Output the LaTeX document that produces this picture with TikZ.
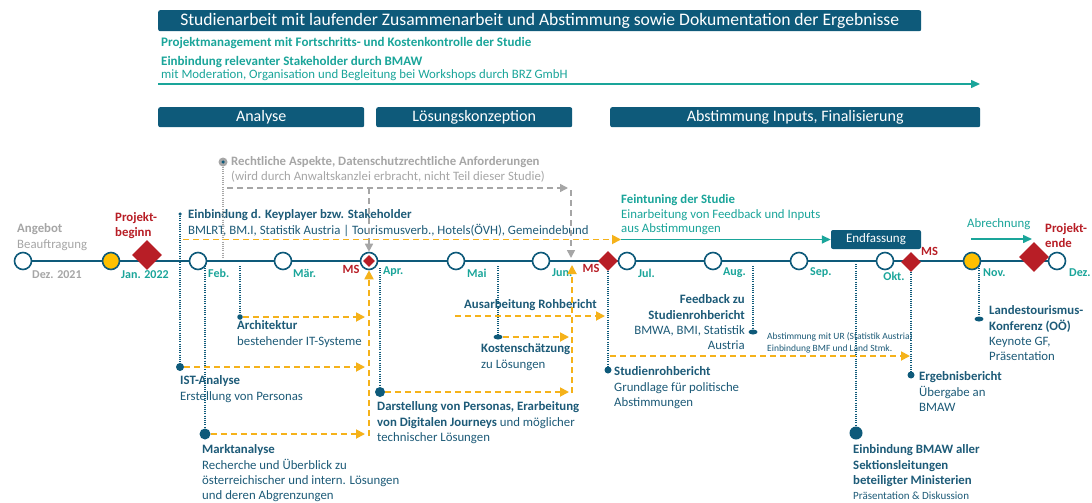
\documentclass[tikz,border=0pt]{standalone}
\usepackage{fontspec}
\setmainfont{Carlito}
\usetikzlibrary{shapes.geometric,arrows.meta}
\definecolor{dblue}{HTML}{0E5A7A}
\definecolor{tblue}{HTML}{1D5B78}
\definecolor{tealc}{HTML}{1AA59A}
\definecolor{goldc}{HTML}{F5B21A}
\definecolor{ylwc}{HTML}{FFC000}
\definecolor{redc}{HTML}{B81E26}
\definecolor{grayc}{HTML}{A6A6A6}
\newcommand\bodyfs{\fontsize{12.8}{15.4}\selectfont}
\begin{document}
\begin{tikzpicture}[x=1pt,y=-1pt,
  bar/.style={fill=dblue, rounded corners=2pt, text=white, inner sep=0pt, anchor=north west},
  txt/.style={inner sep=0pt, align=left, anchor=north west, text=tblue, font=\bodyfs},
  mon/.style={inner sep=0pt, anchor=west, text=tealc, font=\bfseries\fontsize{12}{14}\selectfont},
  ms/.style={inner sep=0pt, text=redc, font=\bfseries\fontsize{12.5}{14}\selectfont},
  mc/.style={circle, draw=dblue, line width=1.6pt, fill=white, minimum size=17pt, inner sep=0pt},
  yc/.style={mc, fill=ylwc},
  dia/.style={diamond, fill=redc, inner sep=0pt, minimum width=#1, minimum height=#1},
  dot/.style={circle, fill=dblue, inner sep=0pt, minimum size=#1},
  edot/.style={ellipse, fill=dblue, inner sep=0pt, minimum width=9pt, minimum height=5pt},
  tl/.style={draw=dblue, line width=1.8pt},
  dotl/.style={draw=dblue, line width=1.2pt, dash pattern=on 1pt off 1.2pt},
  yd/.style={draw=goldc, line width=1.8pt, dash pattern=on 6pt off 4pt, -{Triangle[length=9pt,width=9pt]}},
  gd/.style={draw=grayc, line width=1.6pt, dash pattern=on 6pt off 4pt, -{Triangle[length=8pt,width=8pt]}},
  ta/.style={draw=tealc, line width=1.5pt, -{Triangle[length=9pt,width=8pt]}}
]
\useasboundingbox (0,0) rectangle (1092,503);
\fill[white] (0,0) rectangle (1092,503);

% top section
\node[bar, minimum width=763pt, minimum height=21pt, font=\fontsize{17.6}{20}\selectfont] (title) at (158,10) {Studienarbeit mit laufender Zusammenarbeit und Abstimmung sowie Dokumentation der Ergebnisse};
\node[txt, anchor=west, text=tealc, font=\bfseries\fontsize{13}{15}\selectfont] (pm) at (161,43) {Projektmanagement mit Fortschritts- und Kostenkontrolle der Studie};
\node[txt, anchor=west, text=tealc, font=\bfseries\fontsize{13}{15}\selectfont] (shb) at (161,62) {Einbindung relevanter Stakeholder durch BMAW};
\node[txt, anchor=west, text=tealc, font=\fontsize{12.8}{14}\selectfont] (mod) at (161,75.5) {mit Moderation, Organisation und Begleitung bei Workshops durch BRZ GmbH};
\coordinate (tA) at (158,84);
\coordinate (tB) at (980,84);
\draw[ta] (tA) -- (tB);

\node[bar, minimum width=206pt, minimum height=20pt, font=\fontsize{16}{18}\selectfont] (ph1) at (158,107) {Analyse};
\node[bar, minimum width=196pt, minimum height=20pt, font=\fontsize{16}{18}\selectfont] (ph2) at (376,107) {Lösungskonzeption};
\node[bar, minimum width=370pt, minimum height=20pt, font=\fontsize{16}{18}\selectfont] (ph3) at (610,107) {Abstimmung Inputs, Finalisierung};

% timeline circles
\node[mc] (c0) at (23,261) {};
\node[yc] (c1) at (111,261) {};
\node[mc] (c2) at (198,261) {};
\node[mc] (c3) at (283,261) {};
\node[mc] (c4) at (369,261) {};
\node[mc] (c5) at (456,261) {};
\node[mc] (c6) at (541,261) {};
\node[mc] (c7) at (627,261) {};
\node[mc] (c8) at (713,261) {};
\node[mc] (c9) at (799,261) {};
\node[mc] (c10) at (885,261) {};
\node[yc] (c11) at (972,261) {};
\node[mc] (c12) at (1057,261) {};
\draw[tl] (c0) -- (c1) -- (c2) -- (c3) -- (c4) -- (c5) -- (c6) -- (c7) -- (c8) -- (c9) -- (c10) -- (c11) -- (c12);

% milestones
\node[dia=30pt] (dJan) at (147,255) {};
\node[dia=12pt] (dApr) at (369,261) {};
\node[dia=20pt] (dJun) at (608,261) {};
\node[dia=20pt] (dOkt) at (911,262) {};
\node[dia=30pt] (dDez) at (1034,257) {};

% month labels
\node[mon, text=grayc] (m0) at (32,275) {Dez. 2021};
\node[mon] (m1) at (121,275) {Jan. 2022};
\node[mon] (m2) at (208,273) {Feb.};
\node[mon] (m3) at (293,273) {Mär.};
\node[mon] (m4) at (383,272) {Apr.};
\node[mon] (m5) at (467,273) {Mai};
\node[mon] (m6) at (552,273) {Jun.};
\node[mon] (m7) at (638,273) {Jul.};
\node[mon] (m8) at (723,273) {Aug.};
\node[mon] (m9) at (810,273) {Sep.};
\node[mon, anchor=center] (m10) at (894,276) {Okt.};
\node[mon] (m11) at (983,273) {Nov.};
\node[mon] (m12) at (1069,273) {Dez.};
\node[ms] (msA) at (351,269) {MS};
\node[ms] (msJ) at (591,268) {MS};
\node[ms, anchor=west] (msO) at (921,251) {MS};

% upper labels
\node[txt, text=grayc] (ang) at (17,223.5) {\textbf{Angebot}\\Beauftragung};
\node[txt, text=redc, font=\bfseries\bodyfs] (pbeg) at (115,212) {Projekt-\\beginn};
\node[txt] (keyp) at (188,209.5) {\textbf{Einbindung d. Keyplayer bzw. Stakeholder}\\BMLRT, BM.I, Statistik Austria | Tourismusverb., Hotels(ÖVH), Gemeindebund};
\node[dot=3.5pt] (keyDot) at (180,214) {};
\node[circle, fill=grayc, inner sep=0pt, minimum size=9pt] (rDot) at (223,162) {};
\node[dot=3.5pt] (rDotIn) at (223,162) {};
\node[txt, text=grayc, font=\fontsize{12.8}{14.5}\selectfont] (recht) at (231,156.5) {\textbf{Rechtliche Aspekte, Datenschutzrechtliche Anforderungen}\\(wird durch Anwaltskanzlei erbracht, nicht Teil dieser Studie)};
\node[txt, text=tealc, font=\fontsize{12.8}{14.5}\selectfont] (fein) at (621,194.5) {\textbf{Feintuning der Studie}\\Einarbeitung von Feedback und Inputs\\aus Abstimmungen};
\node[fill=dblue, rounded corners=2pt, text=white, minimum width=90pt, minimum height=19pt, inner sep=0pt, font=\fontsize{13}{15}\selectfont] (endf) at (876,239.5) {Endfassung};
\node[txt, anchor=west, text=tealc] (abr) at (967,224) {Abrechnung};
\node[txt, text=redc, font=\bfseries\bodyfs] (pend) at (1045,223) {Projekt-\\ende};

% gray connectors
\coordinate (rT) at (223,259);
\draw[dotl, draw=grayc] (rDot) -- (rT);
\coordinate (g1) at (227,188);
\coordinate (g2) at (568,188);
\coordinate (g3) at (369,188);
\coordinate (g4) at (571,190);
\coordinate (g5) at (571,258);
\draw[gd] (g1) -- (g2);
\draw[gd] (g3) -- (c4.north);
\draw[gd] (g4) -- (g5);

% stakeholder arrow
\coordinate (k1) at (183,239.5);
\coordinate (k2) at (621,239.5);
\draw[yd] (k1) -- (k2);
\draw[ta] (k2) -- (endf.west);
\coordinate (a1) at (971,239);
\coordinate (a2) at (1032,239);
\draw[ta] (a1) -- (a2);

% lower items
\node[dot=5.5pt] (archDot) at (240,317) {};
\node[txt] (arch) at (237,320.5) {\textbf{Architektur}\\bestehender IT-Systeme};
\node[dot=8pt] (istDot) at (180,367) {};
\node[txt] (ist) at (180,375.5) {\textbf{IST-Analyse}\\Erstellung von Personas};
\node[dot=11pt] (marktDot) at (205,434) {};
\node[txt] (markt) at (202,444.5) {\textbf{Marktanalyse}\\Recherche und Überblick zu\\österreichischer und intern. Lösungen\\und deren Abgrenzungen};
\node[dot=10pt] (darstDot) at (380,392) {};
\node[txt] (darst) at (377,401.5) {\textbf{Darstellung von Personas, Erarbeitung}\\\textbf{von Digitalen Journeys} und möglicher\\technischer Lösungen};
\node[txt, anchor=west, font=\bfseries\bodyfs] (roh) at (464,305) {Ausarbeitung Rohbericht};
\node[edot] (kostDot) at (498,337) {};
\node[txt] (kost) at (481,343.5) {\textbf{Kostenschätzung}\\zu Lösungen};
\node[dot=7pt] (srDot) at (608,370) {};
\node[txt] (sr) at (614,366.5) {\textbf{Studienrohbericht}\\Grundlage für politische\\Abstimmungen};
\node[txt, align=right, anchor=north east] (fb) at (745,294.5) {\textbf{Feedback zu}\\\textbf{Studienrohbericht}\\BMWA, BMI, Statistik\\Austria};
\node[edot] (fbDot) at (753,332) {};
\node[txt, font=\fontsize{9.5}{12}\selectfont] (note) at (767,332) {Abstimmung mit UR (Statistik Austria)\\Einbindung BMF und Land Stmk.};
\node[dot=13pt] (bmawDot) at (856,433) {};
\node[txt] (bmaw) at (853,444.5) {\textbf{Einbindung BMAW aller}\\\textbf{Sektionsleitungen}\\\textbf{beteiligter Ministerien}\\{\fontsize{11}{13}\selectfont Präsentation \& Diskussion}};
\node[dot=7pt] (ergDot) at (911,375) {};
\node[txt] (erg) at (919,371.5) {\textbf{Ergebnisbericht}\\Übergabe an\\BMAW};
\node[edot] (ltDot) at (979,319) {};
\node[txt] (lt) at (989,305.5) {\textbf{Landestourismus-}\\\textbf{Konferenz (OÖ)}\\Keynote GF,\\Präsentation};

% dotted drop lines
\draw[dotl] (keyDot) -- (istDot);
\coordinate (febT) at (205,266);
\draw[dotl] (febT) -- (marktDot);
\coordinate (marT) at (240,266);
\draw[dotl] (marT) -- (archDot);
\coordinate (aprT) at (380,268);
\draw[dotl] (aprT) -- (darstDot);
\coordinate (maiT) at (498,266);
\draw[dotl] (maiT) -- (kostDot);
\draw[dotl] (dJun) -- (srDot);
\coordinate (augT) at (753,266);
\draw[dotl] (augT) -- (fbDot);
\coordinate (sepT) at (856,264);
\draw[dotl] (sepT) -- (bmawDot);
\draw[dotl] (dOkt) -- (ergDot);
\coordinate (novT) at (979,266);
\draw[dotl] (novT) -- (ltDot);

% yellow dashed arrows
\coordinate (aA) at (365,317);
\draw[yd] (archDot) -- (aA);
\coordinate (iA) at (365,367);
\draw[yd] (istDot) -- (iA);
\coordinate (mA) at (365,434);
\draw[yd] (marktDot) -- (mA);
\coordinate (aprB) at (369,436);
\draw[yd] (aprB) -- (c4.south);
\coordinate (dA) at (569,392);
\draw[yd] (darstDot) -- (dA);
\coordinate (kA) at (569,337);
\draw[yd] (kostDot) -- (kA);
\coordinate (jB) at (572,393);
\coordinate (jT) at (572,265);
\draw[yd] (jB) -- (jT);
\coordinate (r1) at (455,316);
\coordinate (r2) at (605,316);
\draw[yd] (r1) -- (r2);
\coordinate (s1) at (610,356);
\coordinate (s2) at (910,356);
\draw[yd] (s1) -- (s2);
\end{tikzpicture}
\end{document}
